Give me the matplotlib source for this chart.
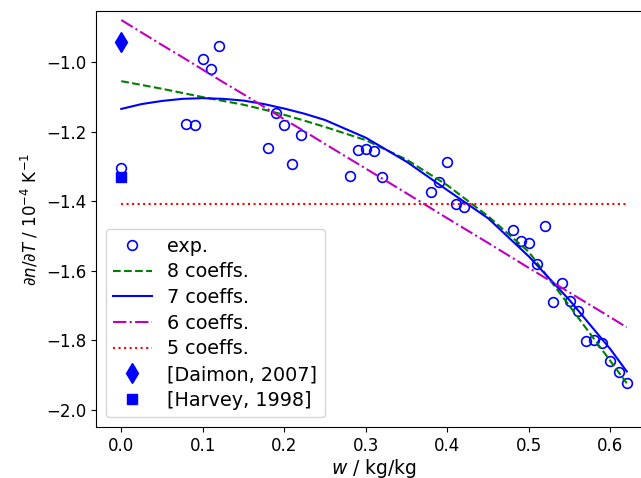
import matplotlib
matplotlib.use("Agg")
import matplotlib.pyplot as plt

# experimental data
w_exp = [0.00, 0.08, 0.09, 0.10, 0.11, 0.12, 0.18, 0.19, 0.20, 0.21, 0.22,
         0.28, 0.29, 0.30, 0.31, 0.32, 0.38, 0.39, 0.40, 0.41, 0.42,
         0.48, 0.49, 0.50, 0.51, 0.52, 0.53, 0.54, 0.55, 0.56, 0.57,
         0.58, 0.59, 0.60, 0.61, 0.62]
dndt_exp = [-1.303, -1.177, -1.181, -0.990, -1.019, -0.954, -1.247, -1.146, -1.180, -1.293, -1.208,
            -1.326, -1.252, -1.249, -1.254, -1.330, -1.372, -1.344, -1.287, -1.409, -1.416,
            -1.483, -1.514, -1.519, -1.581, -1.470, -1.691, -1.636, -1.688, -1.717, -1.803,
            -1.800, -1.808, -1.860, -1.893, -1.922]

# literature values at w = 0
w_daimon, dndt_daimon = [0.0], [-0.942]
w_harvey, dndt_harvey = [0.0], [-1.331]

# fitted curves
w_fit = [0.000, 0.025, 0.050, 0.075, 0.100, 0.125, 0.150, 0.175, 0.200, 0.225, 0.250,
         0.300, 0.350, 0.400, 0.450, 0.500, 0.550, 0.600, 0.620]
fit8 = [-1.054, -1.065, -1.076, -1.088, -1.100, -1.111, -1.122, -1.136, -1.151, -1.168, -1.186,
        -1.224, -1.280, -1.354, -1.443, -1.546, -1.702, -1.860, -1.924]
fit7 = [-1.134, -1.120, -1.111, -1.105, -1.103, -1.105, -1.110, -1.120, -1.133, -1.148, -1.166,
        -1.217, -1.286, -1.368, -1.449, -1.559, -1.685, -1.826, -1.890]
fit6 = [-0.878, -0.914, -0.950, -0.985, -1.021, -1.057, -1.092, -1.128, -1.164, -1.199, -1.235,
        -1.306, -1.377, -1.449, -1.520, -1.592, -1.663, -1.734, -1.763]
w_fit5 = [0.00, 0.62]
fit5 = [-1.409, -1.409]

fig = plt.figure(figsize=(6.41, 4.78), dpi=100)
ax = fig.add_axes([96 / 641, 1 - 427 / 478, 556 / 641, 416 / 478])

ax.plot(w_exp, dndt_exp, 'o', mfc='none', mec='b', ms=7, mew=1.2, label='exp.')
ax.plot(w_fit, fit8, 'g--', lw=1.5, label='8 coeffs.')
ax.plot(w_fit, fit7, 'b-', lw=1.5, label='7 coeffs.')
ax.plot(w_fit, fit6, 'm-.', lw=1.5, label='6 coeffs.')
ax.plot(w_fit5, fit5, 'r:', lw=1.5, label='5 coeffs.')
ax.plot(w_daimon, dndt_daimon, 'bd', ms=10, label='[Daimon, 2007]')
ax.plot(w_harvey, dndt_harvey, 'bs', ms=7, label='[Harvey, 1998]')

ax.set_xlim(-0.031, 0.651)
ax.set_ylim(-2.05, -0.852)
ax.set_xticks([0.0, 0.1, 0.2, 0.3, 0.4, 0.5, 0.6])
ax.set_yticks([-2.0, -1.8, -1.6, -1.4, -1.2, -1.0])
ax.tick_params(labelsize=12)

ax.set_xlabel(r'$w$ / kg/kg', fontsize=13.5, labelpad=2)
ax.set_ylabel(r'$\partial n/\partial T$ / $10^{-4}$ K$^{-1}$', fontsize=12)
ax.legend(loc='lower left', fontsize=13.8, labelspacing=0.35)

fig.savefig('out.png', dpi=100)
plt.close(fig)
